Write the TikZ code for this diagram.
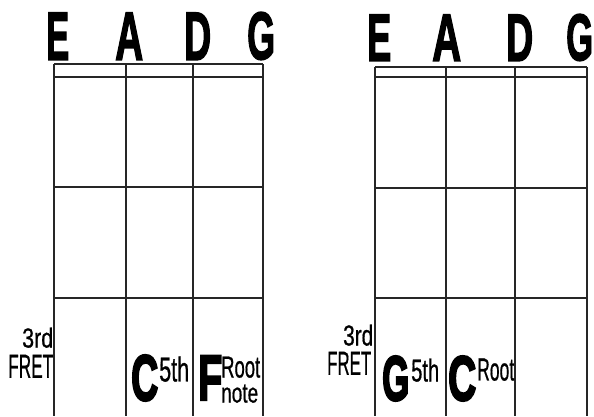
\documentclass[tikz,border=0pt]{standalone}
\usepackage{graphicx}
\usepackage{fontspec}
\setmainfont{Liberation Sans}
\newfontfamily\headfont[BoldFeatures={FakeBold=2.5}]{Liberation Sans}
\newfontfamily\heavyfont[BoldFeatures={FakeBold=4}]{Liberation Sans}
\newfontfamily\labelfont[FakeBold=0.8]{Liberation Sans}
\newcommand\fitto[3]{\resizebox{#1pt}{#2pt}{#3}}
\begin{document}
\begin{tikzpicture}[x=1pt,y=-1pt,
  gridline/.style={line width=1.2pt,black!85},
  fretline/.style={line width=1.6pt,black!85},
  txt/.style={anchor=south west,inner sep=0pt},
]
\useasboundingbox (0,0) rectangle (594,416);
% left diagram
\foreach \x in {54,126,193,263} \draw[gridline] (\x,64) -- (\x,416);
\draw[fretline] (54,64) -- (263,64);
\draw[gridline] (54,77) -- (263,77);
\draw[gridline] (54,187) -- (263,187);
\draw[fretline] (54,298) -- (263,298);
\node[txt] (lE) at (46,60) {\fitto{23}{47}{\headfont\bfseries E}};
\node[txt] (lA) at (115,60) {\fitto{28}{47}{\headfont\bfseries A}};
\node[txt] (lD) at (184,60) {\fitto{27}{47}{\headfont\bfseries D}};
\node[txt] (lG) at (247,60) {\fitto{28}{47}{\headfont\bfseries G}};
\node[txt] (l3rd) at (22,348) {\fitto{31}{20}{\labelfont 3rd}};
\node[txt] (lfret) at (8,378) {\fitto{45}{23}{\labelfont FRET}};
\node[txt] (lC) at (131,401) {\fitto{27}{45}{\heavyfont\bfseries C}};
\node[txt] (l5th) at (159,382) {\fitto{30}{25}{\labelfont 5th}};
\node[txt] (lF) at (198,400) {\fitto{24}{44}{\heavyfont\bfseries F}};
\node[txt] (lroot) at (221,378) {\fitto{39}{21}{\labelfont Root}};
\node[txt] (lnote) at (221,403) {\fitto{37}{18}{\labelfont note}};
% right diagram
\foreach \x in {375,446,515,587} \draw[gridline] (\x,67) -- (\x,416);
\draw[fretline] (375,67) -- (587,67);
\draw[gridline] (375,77) -- (587,77);
\draw[gridline] (375,188) -- (587,188);
\draw[fretline] (375,298) -- (587,298);
\node[txt] (rE) at (367,61) {\fitto{24}{46}{\headfont\bfseries E}};
\node[txt] (rA) at (432,61) {\fitto{29}{46}{\headfont\bfseries A}};
\node[txt] (rD) at (506,61) {\fitto{27}{46}{\headfont\bfseries D}};
\node[txt] (rG) at (566,61) {\fitto{27}{46}{\headfont\bfseries G}};
\node[txt] (r3rd) at (343,346) {\fitto{30}{21}{\labelfont 3rd}};
\node[txt] (rfret) at (327,375) {\fitto{44}{23}{\labelfont FRET}};
\node[txt] (rGn) at (382,401) {\fitto{27}{44}{\heavyfont\bfseries G}};
\node[txt] (r5th) at (411,382) {\fitto{28}{23}{\labelfont 5th}};
\node[txt] (rC) at (448,401) {\fitto{28}{44}{\heavyfont\bfseries C}};
\node[txt] (rroot) at (477,381) {\fitto{37}{22}{\labelfont Root}};
\end{tikzpicture}
\end{document}
